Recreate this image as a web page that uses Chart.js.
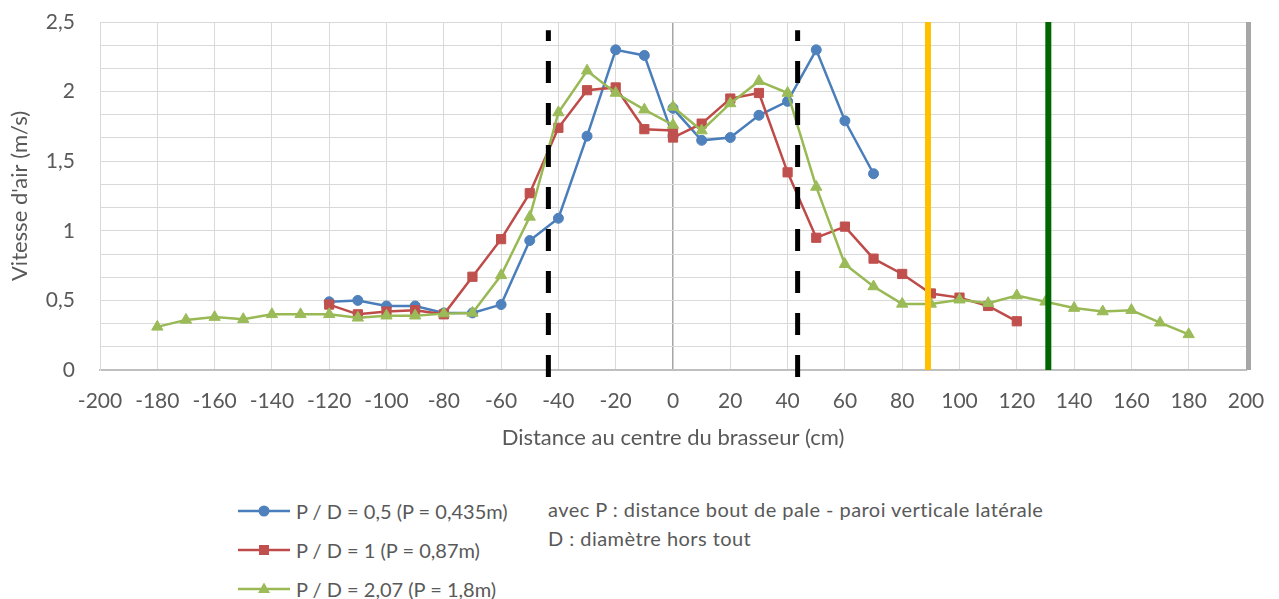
<!DOCTYPE html>
<html><head><meta charset="utf-8">
<script src="https://cdn.jsdelivr.net/npm/chart.js@4"></script>
<style>
html,body{margin:0;padding:0;background:#fff;width:1279px;height:599px;overflow:hidden;font-family:Lato,sans-serif;}
#wrap{position:absolute;left:0;top:0;width:1279px;height:460px;}
.item{position:absolute;left:238px;height:30px;display:flex;align-items:center;color:#595959;font-size:20px;white-space:nowrap;}
.item svg{margin-right:4px;}
.note{position:absolute;left:548px;color:#595959;font-size:20px;letter-spacing:0.45px;white-space:nowrap;line-height:22px;}
</style></head>
<body>
<div id="wrap"><canvas id="c" width="1279" height="460"></canvas></div>
<div id="legend"></div>
<script>
// ---- data ----
const seriesNames = ["P / D = 0,5 (P = 0,435m)", "P / D = 1 (P = 0,87m)", "P / D = 2,07 (P = 1,8m)"];
const noteLines = ["avec P : distance bout de pale - paroi verticale latérale", "D : diamètre hors tout"];
const xTitle = "Distance au centre du brasseur (cm)";
const yTitle = "Vitesse d'air (m/s)";

const blueX = [-120,-110,-100,-90,-80,-70,-60,-50,-40,-30,-20,-10,0,0,10,20,30,40,50,60,70];
const blueY = [0.49,0.50,0.46,0.46,0.41,0.41,0.47,0.93,1.09,1.68,2.30,2.26,1.68,1.88,1.65,1.67,1.83,1.93,2.30,1.79,1.41];

const redX = [-120,-110,-100,-90,-80,-70,-60,-50,-40,-30,-20,-10,0,0,10,20,30,40,50,60,70,80,90,100,110,120];
const redY = [0.47,0.40,0.42,0.43,0.40,0.67,0.94,1.27,1.74,2.01,2.03,1.73,1.72,1.67,1.77,1.95,1.99,1.42,0.95,1.03,0.80,0.69,0.55,0.52,0.46,0.35];

const greenX = [-180,-170,-160,-150,-140,-130,-120,-110,-100,-90,-80,-70,-60,-50,-40,-30,-20,-10,0,0,10,20,30,40,50,60,70,80,90,100,110,120,130,140,150,160,170,180];
const greenY = [0.31,0.36,0.38,0.365,0.40,0.40,0.40,0.375,0.39,0.39,0.405,0.41,0.68,1.10,1.85,2.15,1.99,1.87,1.76,1.89,1.72,1.915,2.075,1.99,1.315,0.76,0.60,0.475,0.475,0.505,0.48,0.535,0.49,0.445,0.42,0.43,0.34,0.256];

const xTickStep = 20;
const yMajorTicks = [0, 0.5, 1, 1.5, 2, 2.5];
const yTickLabels = ["0", "0,5", "1", "1,5", "2", "2,5"];
const yMinorPerMajor = 3;

const bladeEdges = [-43.5, 43.5];     // black dashed lines (cm)
const dashSpan = [-0.05, 2.44];       // vertical extent of dashed lines (m/s)
const wallYellow = [89];
const wallGreen = [131];

// ---- styles ----
const colors = [
  {line:'#4A7EBB', fill:'#4F81BD', style:'circle', r:5},
  {line:'#BE4B48', fill:'#C0504D', style:'rect', r:6.5},
  {line:'#98B954', fill:'#9BBB59', style:'triangle', r:6.5}
];
const TXT = '#595959';

function pts(xs, ys){ return xs.map((x,i)=>({x:x, y:ys[i]})); }

const yGrid = [];
for (let i = 0; i < yMajorTicks.length; i++) {
  yGrid.push(yMajorTicks[i]);
  if (i < yMajorTicks.length - 1) {
    const step = (yMajorTicks[i+1]-yMajorTicks[i]) / yMinorPerMajor;
    for (let k = 1; k < yMinorPerMajor; k++) yGrid.push(yMajorTicks[i] + k*step);
  }
}

const hideJump = { borderColor: c => (c.p0.parsed.x === c.p1.parsed.x ? 'rgba(0,0,0,0)' : undefined) };

const datasets = [[blueX,blueY],[redX,redY],[greenX,greenY]].map((d,i)=>({
  label: seriesNames[i],
  data: pts(d[0], d[1]),
  borderColor: colors[i].line,
  backgroundColor: colors[i].fill,
  pointBackgroundColor: colors[i].fill,
  pointBorderColor: colors[i].fill,
  pointStyle: colors[i].style,
  pointRadius: colors[i].r,
  pointBorderWidth: 1,
  borderWidth: 2.5,
  tension: 0,
  order: 2 - i,
  segment: hideJump
}));

const refPlugin = {
  id: 'refs',
  afterDatasetsDraw(chart) {
    const {ctx, chartArea: a, scales: {x, y}} = chart;
    ctx.save();
    bladeEdges.forEach(v => {
      const px = x.getPixelForValue(v);
      ctx.beginPath();
      ctx.setLineDash([22, 20]);
      ctx.lineWidth = 5;
      ctx.strokeStyle = '#000';
      ctx.moveTo(px, y.getPixelForValue(dashSpan[0]));
      ctx.lineTo(px, y.getPixelForValue(dashSpan[1]));
      ctx.stroke();
    });
    ctx.setLineDash([]);
    const solid = (vals, col) => vals.forEach(v => {
      const px = x.getPixelForValue(v);
      ctx.beginPath();
      ctx.lineWidth = 6;
      ctx.strokeStyle = col;
      ctx.moveTo(px, a.top);
      ctx.lineTo(px, a.bottom);
      ctx.stroke();
    });
    solid(wallYellow, '#FFC000');
    solid(wallGreen, '#006600');
    const rx = x.getPixelForValue(x.max) + 2.5;
    ctx.beginPath();
    ctx.lineWidth = 5;
    ctx.strokeStyle = '#A6A6A6';
    ctx.moveTo(rx, a.top);
    ctx.lineTo(rx, a.bottom);
    ctx.stroke();
    ctx.restore();
  }
};

Chart.defaults.font.family = 'Lato, sans-serif';
new Chart(document.getElementById('c'), {
  type: 'line',
  data: { datasets },
  plugins: [refPlugin],
  options: {
    responsive: false,
    animation: false,
    devicePixelRatio: 1,
    layout: { padding: { left: 0, right: 33, top: 22, bottom: 0 } },
    plugins: { legend: { display: false }, tooltip: { enabled: false } },
    scales: {
      x: {
        type: 'linear', min: -200, max: 200,
        afterFit: s => { s.height = 90; s.paddingLeft = 0; s.paddingRight = 0; },
        ticks: { stepSize: xTickStep, autoSkip: false, maxRotation: 0, color: TXT, font: { size: 21 }, padding: 19 },
        grid: { color: c => (c.tick && c.tick.value === 0 ? '#A6A6A6' : '#D9D9D9'), lineWidth: c => (c.tick && c.tick.value === 0 ? 1.5 : 1), drawTicks: false },
        border: { display: true, color: '#BFBFBF', width: 2 },
        title: { display: true, text: xTitle, color: TXT, font: { size: 22 }, padding: { top: 0, bottom: 9 } }
      },
      y: {
        type: 'linear', min: 0, max: 2.5,
        afterFit: s => { s.width = 100; s.paddingTop = 0; s.paddingBottom = 0; },
        afterBuildTicks: s => { s.ticks = yGrid.map(v => ({ value: v })); },
        ticks: {
          autoSkip: false, color: TXT, font: { size: 21 }, padding: 25,
          callback: v => { const i = yMajorTicks.findIndex(m => Math.abs(m - v) < 1e-9); return i >= 0 ? yTickLabels[i] : ''; }
        },
        grid: { color: '#D9D9D9', lineWidth: 1, drawTicks: false },
        border: { display: true, color: '#D9D9D9', width: 1 },
        title: { display: true, text: yTitle, color: TXT, font: { size: 22 }, padding: { top: 7, bottom: 0 } }
      }
    }
  }
});

const leg = document.getElementById('legend');
const rowCenters = [511, 550, 589];
seriesNames.forEach((n, i) => {
  const c = colors[i];
  let marker = '';
  if (c.style === 'circle') marker = `<circle cx="26" cy="10" r="5.5" fill="${c.fill}"/>`;
  else if (c.style === 'rect') marker = `<rect x="21" y="5" width="10" height="10" fill="${c.fill}"/>`;
  else marker = `<polygon points="26,3.5 32,14 20,14" fill="${c.fill}"/>`;
  const d = document.createElement('div');
  d.className = 'item';
  d.style.top = (rowCenters[i] - 15) + 'px';
  d.innerHTML = `<svg width="54" height="20"><line x1="0" y1="10" x2="52" y2="10" stroke="${c.line}" stroke-width="2.5"/>${marker}</svg><span>${n}</span>`;
  leg.appendChild(d);
});
const note = document.createElement('div');
note.className = 'note';
note.style.top = '498px';
note.innerHTML = noteLines.map(t => `<div style="height:29px">${t}</div>`).join('');
leg.appendChild(note);
</script>
</body></html>
